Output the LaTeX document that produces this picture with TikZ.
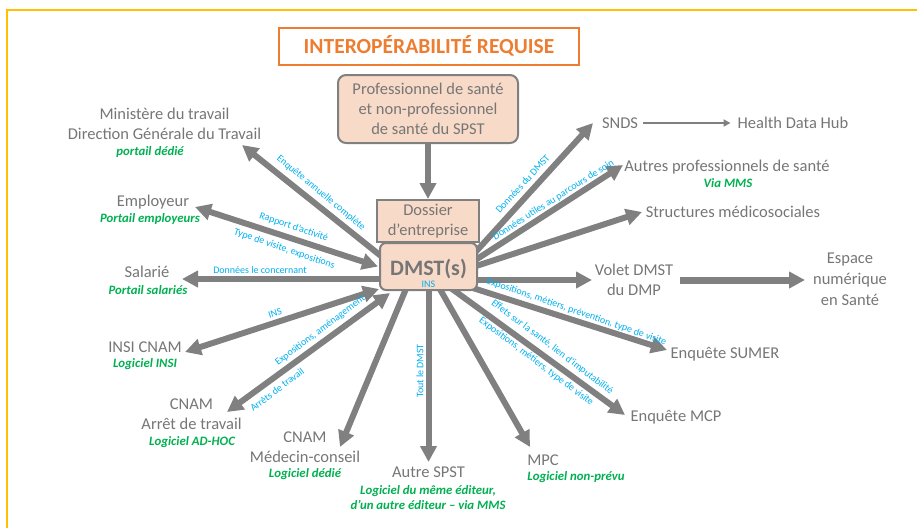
\documentclass[tikz,border=0pt]{standalone}
\usepackage{fontspec}
\setmainfont{Carlito}
\usepackage{tikz}
\usetikzlibrary{arrows.meta,positioning,backgrounds}

\definecolor{txtgray}{HTML}{767676}
\definecolor{arrowgray}{HTML}{808080}
\definecolor{boxfill}{HTML}{F8DAC8}
\definecolor{titleorange}{HTML}{ED7D31}
\definecolor{framegold}{HTML}{FFC000}
\definecolor{softgreen}{HTML}{00B050}
\definecolor{flowblue}{HTML}{00B0F0}

\begin{document}
\begin{tikzpicture}[x=1pt,y=-1pt,
    lbl/.style={font=\fontsize{16.5}{20}\selectfont, text=txtgray, align=center, inner sep=1pt},
    soft/.style={font=\fontsize{12.8}{15}\selectfont\bfseries\itshape, text=softgreen, align=center, inner sep=1pt},
    flow/.style={font=\fontsize{10}{12}\selectfont, text=flowblue, inner sep=0.5pt},
    boxed/.style={lbl, draw=arrowgray, line width=2pt, fill=boxfill},
    bigarrow/.style={draw=arrowgray, line width=6pt, -{Triangle[length=16pt,width=16pt]}},
    twoway/.style={bigarrow, {Triangle[length=16pt,width=16pt]}-{Triangle[length=16pt,width=16pt]}}]
        \useasboundingbox (0,0) rectangle (917,528);
        % Draw the frame
        \draw[framegold, line width=1.5pt] (7,528) -- (7,10) -- (917,10);
        % Title
        \node[draw=titleorange, line width=2pt, minimum width=300pt, minimum height=37pt, text=titleorange,
              font=\fontsize{21.5}{24}\selectfont\bfseries] (title) at (429,46) {INTEROPÉRABILITÉ REQUISE};
        % Draw the boxes in the middle
        \node[boxed, rounded corners=8pt, minimum width=180pt, minimum height=68pt] (prof) at (428,109)
              {Professionnel de santé\\et non-professionnel\\de santé du SPST};
        \node[boxed, minimum width=102pt, minimum height=42pt] (dossier) at (428,221) {Dossier\\d’entreprise};
        \node[boxed, rounded corners=6pt, minimum width=97pt, minimum height=47pt, text height=17pt, text depth=0pt,
              font=\fontsize{22}{24}\selectfont\bfseries] (dmst) at (428.5,266.5) {DMST(s)};
        \node[flow] (ins) at (428.5,284) {INS};
        % Label the partners on the left
        \node[lbl] (minis) at (164.5,124) {Ministère du travail\\Direction Générale du Travail};
        \node[soft] (minissw) at (150,152) {portail dédié};
        \node[lbl] (employeur) at (153,202) {Employeur};
        \node[soft] (employeursw) at (150,219) {Portail employeurs};
        \node[lbl] (salarie) at (147,272) {Salarié};
        \node[soft] (salariesw) at (148,290) {Portail salariés};
        \node[lbl] (insi) at (145,347) {INSI CNAM};
        \node[soft] (insisw) at (145,364) {Logiciel INSI};
        \node[lbl] (arret) at (191.5,414.5) {CNAM\\Arrêt de travail};
        \node[soft] (arretsw) at (192,442) {Logiciel AD-HOC};
        \node[lbl] (medecin) at (305,447) {CNAM\\Médecin-conseil};
        \node[soft] (medecinsw) at (305,474) {Logiciel dédié};
        \node[lbl] (autre) at (428.5,472) {Autre SPST};
        \node[soft] (autresw) at (428,497.5) {Logiciel du même éditeur,\\d’un autre éditeur – via MMS};
        \node[lbl] (mpc) at (543,460) {MPC};
        \node[soft] (mpcsw) at (576,477) {Logiciel non-prévu};
        % Label the partners on the right
        \node[lbl] (mcp) at (676,417) {Enquête MCP};
        \node[lbl] (sumer) at (725,354) {Enquête SUMER};
        \node[lbl] (volet) at (634,280) {Volet DMST\\du DMP};
        \node[lbl, font=\fontsize{16.5}{21}\selectfont] (espace) at (850,279.5) {Espace\\numérique\\en Santé};
        \node[lbl] (structures) at (733,212) {Structures médicosociales};
        \node[lbl] (autres) at (727,167) {Autres professionnels de santé};
        \node[soft] (autressw) at (728,183) {Via MMS};
        \node[lbl] (snds) at (620,123) {SNDS};
        \node[lbl] (hdh) at (793,123) {Health Data Hub};
        % Draw the arrows behind the boxes
        \begin{scope}[on background layer]
        \draw[bigarrow] (prof.south) -- (dossier.north);
        \draw[bigarrow] ([shift={(-42.5,-6.5)}]dmst.center) -- ([shift={(77.5,21)}]minis.center);
        \draw[twoway] ([shift={(42,5)}]employeur.center) -- ([xshift=-1pt]dmst.west);
        \draw[bigarrow] ([shift={(-42.5,12.5)}]dmst.center) -- ([shift={(35,7)}]salarie.center);
        \draw[twoway] ([shift={(40,5)}]insi.center) -- ([shift={(-49.5,22.5)}]dmst.center);
        \draw[twoway] ([shift={(35.5,-2.5)}]arret.center) -- ([shift={(-38.5,26.5)}]dmst.center);
        \draw[bigarrow] ([shift={(-20.5,17.5)}]dmst.center) -- ([shift={(35,0)}]medecin.center);
        \draw[bigarrow] ([shift={(0,15)}]dmst.center) -- ([shift={(0,-10)}]autre.center);
        \draw[bigarrow] ([shift={(8.5,17.5)}]dmst.center) -- ([shift={(-13,-13)}]mpc.center);
        \draw[bigarrow] ([shift={(19.5,19.5)}]dmst.center) -- ([shift={(-51,-2)}]mcp.center);
        \draw[bigarrow] ([shift={(36.5,19)}]dmst.center) -- ([shift={(-58,-4)}]sumer.center);
        \draw[bigarrow] ([shift={(40,13.5)}]dmst.center) -- ([shift={(-42,0)}]volet.center);
        \draw[bigarrow] ([shift={(41.5,1.5)}]dmst.center) -- ([shift={(-91,0)}]structures.center);
        \draw[bigarrow] ([shift={(41.5,-3)}]dmst.center) -- ([shift={(-104,-2)}]autres.center);
        \draw[bigarrow] ([shift={(42.5,-9.5)}]dmst.center) -- ([shift={(-27,0)}]snds.center);
        \draw[bigarrow, line width=7pt] ([shift={(46,0)}]volet.center) -- ([shift={(-45,0.5)}]espace.center);
        \draw[arrowgray, line width=2pt, -{Triangle[length=7pt,width=7pt]}, shorten <=4pt, shorten >=6pt] (snds) -- (hdh);
        \end{scope}
        % Label the flows
        \node[flow, rotate=-39.5] (fminis) at (321,193) {Enquête annuelle complète};
        \node[flow, rotate=-19] (femp1) at (293.7,227.1) {Rapport d’activité};
        \node[flow, rotate=-19] (femp2) at (284.3,248.9) {Type de visite, expositions};
        \node[flow] (fsal) at (260,270) {Données le concernant};
        \node[flow, rotate=18] (finsi) at (275,313.5) {INS};
        \node[flow, rotate=37] (farret1) at (320.2,330.6) {Expositions, aménagement};
        \node[flow, rotate=37] (farret2) at (277,389.5) {Arrêts de travail};
        \node[flow, rotate=90] (fautre) at (420,371) {Tout le DMST};
        \node[flow, rotate=-37] (fmcp1) at (552.3,347.1) {Effets sur la santé, lien d’imputabilité};
        \node[flow, rotate=-37] (fmcp2) at (536.3,361.6) {Expositions, métiers, type de visite};
        \node[flow, rotate=-19] (fsumer) at (576.5,311.7) {Expositions, métiers, prévention, type de visite};
        \node[flow, rotate=47.6] (fsnds) at (522.5,184) {Données du DMST};
        \node[flow, rotate=32.5] (fautres) at (553.5,200) {Données utiles au parcours de soin};
\end{tikzpicture}
\end{document}
